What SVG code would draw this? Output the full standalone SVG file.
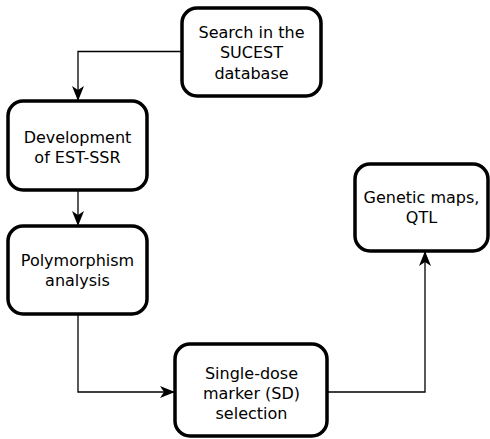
<svg xmlns="http://www.w3.org/2000/svg" width="490" height="439" viewBox="0 0 490 439">
<defs>
<marker id="arr" markerWidth="15" markerHeight="12" refX="14" refY="6" orient="auto" markerUnits="userSpaceOnUse">
<path d="M0,0 L15,6 L0,12 L4,6 Z" fill="#000"/>
</marker>
<style>
.box{fill:#fff;stroke:#000;stroke-width:3.5}
.t{font-family:"DejaVu Sans",sans-serif;font-size:16px;text-anchor:middle;fill:#000}
.c{fill:none;stroke:#000;stroke-width:1.3;marker-end:url(#arr)}
</style>
</defs>
<rect width="490" height="439" fill="#fff"/>
<g id="connectors">
<path class="c" d="M182,51.5 H78 V100"/>
<path class="c" d="M78,190 V225"/>
<path class="c" d="M78,314 V392 H174"/>
<path class="c" d="M328,392 H425 V252"/>
</g>
<g id="search">
<rect class="box" x="182" y="8" width="139" height="88" rx="15"/>
<text class="t" x="251.5" y="38">Search in the</text>
<text class="t" x="251.5" y="58">SUCEST</text>
<text class="t" x="251.5" y="79">database</text>
</g>
<g id="development">
<rect class="box" x="8" y="101" width="139" height="89" rx="15"/>
<text class="t" x="77.5" y="143">Development</text>
<text class="t" x="77.5" y="163">of EST-SSR</text>
</g>
<g id="polymorphism">
<rect class="box" x="8" y="226" width="139" height="88" rx="15"/>
<text class="t" x="77.5" y="266">Polymorphism</text>
<text class="t" x="77.5" y="286">analysis</text>
</g>
<g id="singledose">
<rect class="box" x="175" y="344" width="152" height="92" rx="15"/>
<text class="t" x="251.5" y="379">Single-dose</text>
<text class="t" x="251.5" y="399">marker (SD)</text>
<text class="t" x="251.5" y="419">selection</text>
</g>
<g id="genetic">
<rect class="box" x="355" y="164" width="133" height="87" rx="15"/>
<text class="t" x="421.5" y="203">Genetic maps,</text>
<text class="t" x="421.5" y="223">QTL</text>
</g>
</svg>
